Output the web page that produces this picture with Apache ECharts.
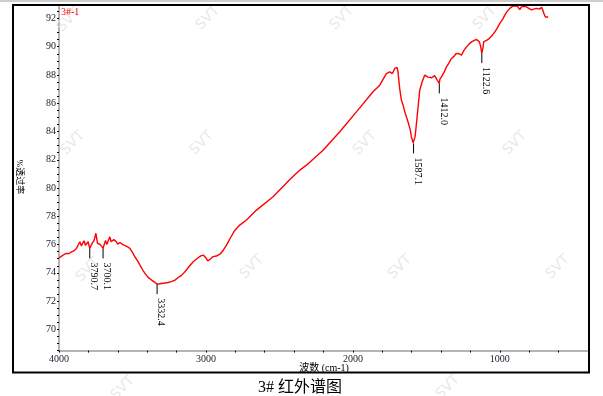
<!DOCTYPE html>
<html>
<head>
<meta charset="utf-8">
<script src="https://cdn.jsdelivr.net/npm/echarts@6/dist/echarts.min.js"></script>
<style>
html,body{margin:0;padding:0;background:#fff;}
#chart{width:603px;height:396px;}
</style>
</head>
<body>
<div id="chart"></div>
<script>
// ---- data ----
const wavenumbers = [4000,3995,3980,3965,3949,3935,3915,3900,3881,3870,3858,3847,3839,3829,3820,3813,3802,3791,3784,3775,3761,3749,3743,3738,3722,3713,3700,3694,3683,3675,3670,3660,3654,3645,3638,3627,3620,3610,3601,3585,3574,3565,3552,3535,3518,3500,3484,3465,3449,3430,3415,3395,3370,3350,3332,3320,3302,3280,3257,3235,3211,3190,3165,3143,3115,3085,3055,3035,3018,3000,2987,2979,2967,2952,2942,2929,2918,2902,2882,2860,2832,2804,2770,2724,2656,2543,2429,2361,2316,2203,2089,1976,1863,1817,1794,1772,1749,1731,1715,1699,1693,1681,1670,1659,1647,1625,1609,1602,1590,1587,1582,1577,1570,1563,1554,1545,1529,1511,1499,1489,1477,1464,1454,1444,1436,1424,1412,1408,1397,1379,1363,1349,1329,1309,1299,1284,1274,1261,1244,1226,1209,1192,1174,1158,1148,1139,1130,1123,1115,1110,1099,1079,1069,1056,1034,1019,1000,980,966,950,932,915,898,880,870,864,853,835,819,800,784,770,750,730,716,708,700,690,682,671];
const transmittance = [75.05,75.09,75.2,75.3,75.38,75.35,75.49,75.55,75.73,75.8,76.2,75.9,76.1,76.27,75.95,75.96,76.2,75.73,75.85,76.08,76.3,76.8,76.4,76.08,76.03,75.95,75.73,75.95,76.3,76.0,76.03,76.4,76.55,76.2,76.12,76.35,76.44,76.2,76.03,76.15,76.08,76.0,75.96,75.85,75.73,75.45,75.14,74.85,74.55,74.2,73.96,73.7,73.49,73.35,73.2,73.25,73.25,73.28,73.32,73.38,73.49,73.65,73.84,74.07,74.45,74.8,75.05,75.2,75.26,75.05,74.85,74.83,75.0,75.15,75.2,75.19,75.09,75.35,75.6,75.96,76.5,77.0,77.38,77.74,78.44,79.38,80.6,81.27,81.62,82.68,83.98,85.39,86.81,87.28,87.7,88.1,88.22,88.1,88.46,88.53,88.22,87.0,86.22,85.9,85.39,84.69,84.1,83.62,83.2,83.16,83.3,83.62,84.3,85.04,86.0,86.93,87.5,87.99,88.06,87.85,87.76,87.8,87.68,87.95,87.83,87.6,87.4,87.7,87.87,88.2,88.58,88.8,89.17,89.35,89.5,89.52,89.4,89.4,89.75,89.99,90.2,90.34,90.45,90.51,90.5,90.34,90.0,89.55,89.9,90.34,90.4,90.51,90.45,90.75,91.05,91.3,91.65,91.95,92.23,92.5,92.71,92.85,92.89,92.85,92.75,92.62,92.82,92.85,92.82,92.7,92.6,92.66,92.71,92.66,92.78,92.6,92.35,92.1,92.05,92.1];

const peakWaves = [3790.7, 3700.1, 3332.4, 1587.1, 1412.0, 1122.6];
const peakValues = [75.73, 75.73, 73.2, 83.16, 87.4, 89.55];
const peakLabels = ['3790.7', '3700.1', '3332.4', '1587.1', '1412.0', '1122.6'];

const xTickLabels = [1000, 2000, 3000, 4000];
const yTickLabels = [70, 72, 74, 76, 78, 80, 82, 84, 86, 88, 90, 92];

const sampleName = '3#-1';
const chartTitle = '3# 红外谱图';
const xAxisName = '波数 (cm-1)';
const yAxisName = '%透过率';
const watermarkText = 'SVT';

// ---- chart ----
const SERIF = "'Liberation Serif','Noto Sans CJK SC',serif";
const chart = echarts.init(document.getElementById('chart'), null, {renderer: 'canvas'});

const watermarkPos = [[69,20],[208,18],[342,18],[485,18],[73,143],[202,143],[365,143],[515,143],[88,270],[252,267],[400,267],[558,267],[123,388],[448,387]];

const graphics = [
  {type: 'line', shape: {x1: 0, y1: 1, x2: 603, y2: 1}, style: {stroke: '#9a9a9a', lineWidth: 1}, z: 0},
  {type: 'rect', shape: {x: 13, y: 5, width: 576, height: 367.5}, style: {fill: 'none', stroke: '#000', lineWidth: 2}, z: 5},
  {type: 'text', x: 61, y: 12, style: {text: sampleName, fill: '#ff0000', font: "10px " + SERIF, textAlign: 'left', textVerticalAlign: 'middle'}, z: 6},
  {type: 'text', x: 19, y: 177, rotation: -Math.PI / 2, style: {text: yAxisName, fill: '#000', font: "9px " + SERIF, textAlign: 'center', textVerticalAlign: 'middle'}, z: 6},
  {type: 'text', x: 324, y: 368, style: {text: xAxisName, fill: '#000', font: "10px " + SERIF, textAlign: 'center', textVerticalAlign: 'middle'}, z: 6},
  {type: 'text', x: 300, y: 388, style: {text: chartTitle, fill: '#000', font: "16px " + SERIF, textAlign: 'center', textVerticalAlign: 'middle'}, z: 6}
];
watermarkPos.forEach(p => {
  graphics.push({type: 'text', x: p[0], y: p[1], rotation: Math.PI / 4, silent: true,
    style: {text: watermarkText, fill: '#e8e8e8', font: "14px 'DejaVu Sans'", textAlign: 'center', textVerticalAlign: 'middle'}, z: 1});
});

chart.setOption({
  animation: false,
  backgroundColor: '#fff',
  grid: {left: 59, right: 15, top: 5, height: 345.6},
  xAxis: {
    type: 'value', inverse: true, min: 400, max: 4000, interval: 200,
    axisLine: {show: true, onZero: false, lineStyle: {color: '#b4b4b4', width: 2}},
    axisTick: {show: true, length: 2, lineStyle: {color: '#000', width: 1}},
    splitLine: {show: false},
    axisLabel: {
      margin: 4, fontSize: 10, color: '#1a1a2a', fontFamily: SERIF,
      showMinLabel: true, showMaxLabel: true,
      formatter: v => xTickLabels.includes(Math.round(v)) && Math.abs(v - Math.round(v)) < 1e-6 ? String(Math.round(v)) : ''
    }
  },
  yAxis: {
    type: 'value', min: 68.5, max: 92.95, interval: 0.5,
    axisLine: {show: true, onZero: false, lineStyle: {color: '#b4b4b4', width: 2}},
    axisTick: {show: true, length: 2, lineStyle: {color: '#000', width: 1}},
    splitLine: {show: false},
    axisLabel: {
      margin: 3, fontSize: 10, color: '#1a1a2a', fontFamily: SERIF,
      formatter: v => {
        const r = Math.round(v);
        return (Math.abs(v - r) < 1e-6 && yTickLabels.includes(r)) ? String(r) : '';
      }
    }
  },
  series: [
    {
      type: 'line',
      data: wavenumbers.map((w, i) => [w, transmittance[i]]),
      showSymbol: false,
      symbol: 'none',
      lineStyle: {color: '#ff0000', width: 1.4},
      z: 3
    },
    {
      type: 'custom',
      data: peakWaves.map((w, i) => [w, peakValues[i]]),
      encode: {x: 0, y: 1},
      z: 4,
      renderItem: function (params, api) {
        const p = api.coord([api.value(0), api.value(1)]);
        return {
          type: 'group',
          children: [
            {type: 'line', shape: {x1: p[0], y1: p[1], x2: p[0], y2: p[1] + 10}, style: {stroke: '#000', lineWidth: 1}},
            {type: 'text', x: p[0] + 4, y: p[1] + 14, rotation: -Math.PI / 2,
              style: {text: peakLabels[params.dataIndex], fill: '#000', font: "10px " + SERIF, textAlign: 'left', textVerticalAlign: 'middle'}}
          ]
        };
      }
    }
  ],
  graphic: graphics
});
</script>
</body>
</html>
